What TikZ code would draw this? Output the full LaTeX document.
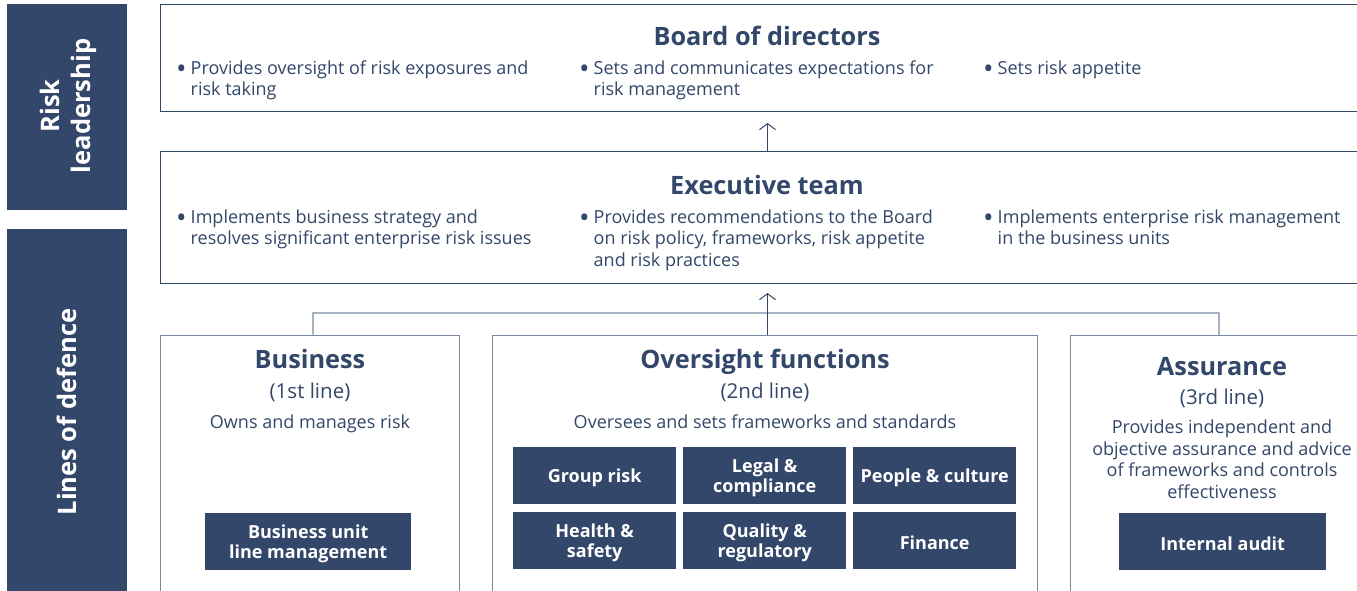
\documentclass[tikz,border=0pt]{standalone}
\usepackage{fontspec}
\setmainfont{Open Sans}
\usetikzlibrary{arrows.meta}
\definecolor{navy}{HTML}{33476A}
\definecolor{edge}{HTML}{7A89A2}
\newcommand{\bdot}{\raisebox{-4.2pt}{\fontsize{28}{0}\selectfont\textbullet}}
\begin{document}
\begin{tikzpicture}[x=1pt,y=-1pt,
  bar/.style={fill=navy, draw=none, inner sep=0pt, anchor=north west},
  topbox/.style={draw=navy, line width=1pt, fill=white, inner sep=0pt, anchor=north west},
  lowbox/.style={draw=edge, line width=1.2pt, fill=white, inner sep=0pt, anchor=north west},
  darkbox/.style={fill=navy, inner sep=0pt, anchor=north west},
  dtext/.style={text=white, inner sep=0pt, align=center, yshift=-2.5pt,
    font=\fontsize{18}{20}\selectfont\bfseries},
  bartext/.style={rotate=90, text=white, align=center, font=\fontsize{25.5}{31}\selectfont\bfseries},
  title/.style={text=navy, anchor=base, inner sep=0pt, font=\fontsize{25.3}{28}\selectfont\bfseries},
  sub/.style={text=navy, anchor=base, inner sep=0pt, font=\fontsize{20.5}{22}\selectfont},
  body/.style={text=navy, anchor=base, inner sep=0pt, align=center, font=\fontsize{18}{21.5}\selectfont},
  bullets/.style={text=navy, anchor=base west, inner sep=0pt, font=\fontsize{18}{21.5}\selectfont},
  conn/.style={draw=edge, line width=1.2pt},
  arr/.style={draw=navy, line width=1pt, -{Straight Barb[length=6pt,width=16pt]}}
]
\useasboundingbox (0,0) rectangle (1357,590);
\fill[white] (0,0) rectangle (1357,590);

% left bars
\node[bar, minimum width=120pt, minimum height=206pt] (rl) at (7,4) {};
\node[bartext] (rlt) at (68,106) {Risk\\leadership};
\node[bar, minimum width=120pt, minimum height=380pt] (ld) at (7,229) {};
\node[bartext] (ldt) at (67,412) {Lines of defence};

% board
\node[topbox, minimum width=1214pt, minimum height=107pt] (board) at (160,4) {};
\node[title] (boardt) at (767,45.5) {Board of directors};
\node[bullets] (b1) at (176,74) {\begin{tabular}[t]{@{}l@{\hspace{4pt}}l@{}}\bdot & Provides oversight of risk exposures and\\ & risk taking\end{tabular}};
\node[bullets] (b2) at (579,74) {\begin{tabular}[t]{@{}l@{\hspace{4pt}}l@{}}\bdot & Sets and communicates expectations for\\ & risk management\end{tabular}};
\node[bullets] (b3) at (983,74) {\begin{tabular}[t]{@{}l@{\hspace{4pt}}l@{}}\bdot & Sets risk appetite\end{tabular}};

% executive
\node[topbox, minimum width=1214pt, minimum height=132pt] (exec) at (160,151) {};
\node[title] (exect) at (767,194.5) {Executive team};
\node[bullets] (e1) at (176,223) {\begin{tabular}[t]{@{}l@{\hspace{4pt}}l@{}}\bdot & Implements business strategy and\\ & resolves significant enterprise risk issues\end{tabular}};
\node[bullets] (e2) at (579,223) {\begin{tabular}[t]{@{}l@{\hspace{4pt}}l@{}}\bdot & Provides recommendations to the Board\\ & on risk policy, frameworks, risk appetite\\ & and risk practices\end{tabular}};
\node[bullets] (e3) at (983,223) {\begin{tabular}[t]{@{}l@{\hspace{4pt}}l@{}}\bdot & Implements enterprise risk management\\ & in the business units\end{tabular}};

% lower boxes
\node[lowbox, minimum width=299pt, minimum height=270pt] (bus) at (160,335) {};
\node[lowbox, minimum width=545pt, minimum height=270pt] (ovs) at (492,335) {};
\node[lowbox, minimum width=300pt, minimum height=270pt] (ass) at (1070,335) {};

\node[title] (bust) at (310,368.5) {Business};
\node[sub] (buss) at (310,398) {(1st line)};
\node[body] (busd) at (310,428) {Owns and manages risk};
\node[darkbox, minimum width=206pt, minimum height=57pt] (bum) at (205,513) {};
\node[dtext] (bumt) at (bum.center) {Business unit\\line management};

\node[title] (ovst) at (765,368.5) {Oversight functions};
\node[sub] (ovss) at (765,398) {(2nd line)};
\node[body] (ovsd) at (765,428) {Oversees and sets frameworks and standards};
\node[darkbox, minimum width=163pt, minimum height=57pt] (g1) at (513,447) {};
\node[darkbox, minimum width=163pt, minimum height=57pt] (g2) at (683,447) {};
\node[darkbox, minimum width=163pt, minimum height=57pt] (g3) at (853,447) {};
\node[darkbox, minimum width=163pt, minimum height=57pt] (g4) at (513,512) {};
\node[darkbox, minimum width=163pt, minimum height=57pt] (g5) at (683,512) {};
\node[darkbox, minimum width=163pt, minimum height=57pt] (g6) at (853,512) {};
\node[dtext] (g1t) at (g1.center) {Group risk};
\node[dtext] (g2t) at (g2.center) {Legal \&\\compliance};
\node[dtext] (g3t) at (g3.center) {People \& culture};
\node[dtext] (g4t) at (g4.center) {Health \&\\safety};
\node[dtext] (g5t) at (g5.center) {Quality \&\\regulatory};
\node[dtext] (g6t) at (g6.center) {Finance};

\node[title] (asst) at (1222,375.5) {Assurance};
\node[sub] (asss) at (1222,404) {(3rd line)};
\node[body, anchor=north] (assd) at (1222,420) {Provides independent and\\objective assurance and advice\\of frameworks and controls\\effectiveness};
\node[darkbox, minimum width=207pt, minimum height=57pt] (ia) at (1119,513) {};
\node[dtext] (iat) at (ia.center) {Internal audit};

% connectors
\coordinate (jl) at (313,313);
\coordinate (jr) at (1219,313);
\draw[conn] ([xshift=3pt]bus.north) -- (jl) -- (jr) -- (jr |- ass.north);
\draw[conn] (exec.south |- ovs.north) -- (exec.south |- jl);
\draw[arr, shorten >=9pt] (exec.south |- ovs.north) -- (exec.south);
\draw[arr, shorten >=11pt] (exec.north) -- (board.south);
\end{tikzpicture}
\end{document}
